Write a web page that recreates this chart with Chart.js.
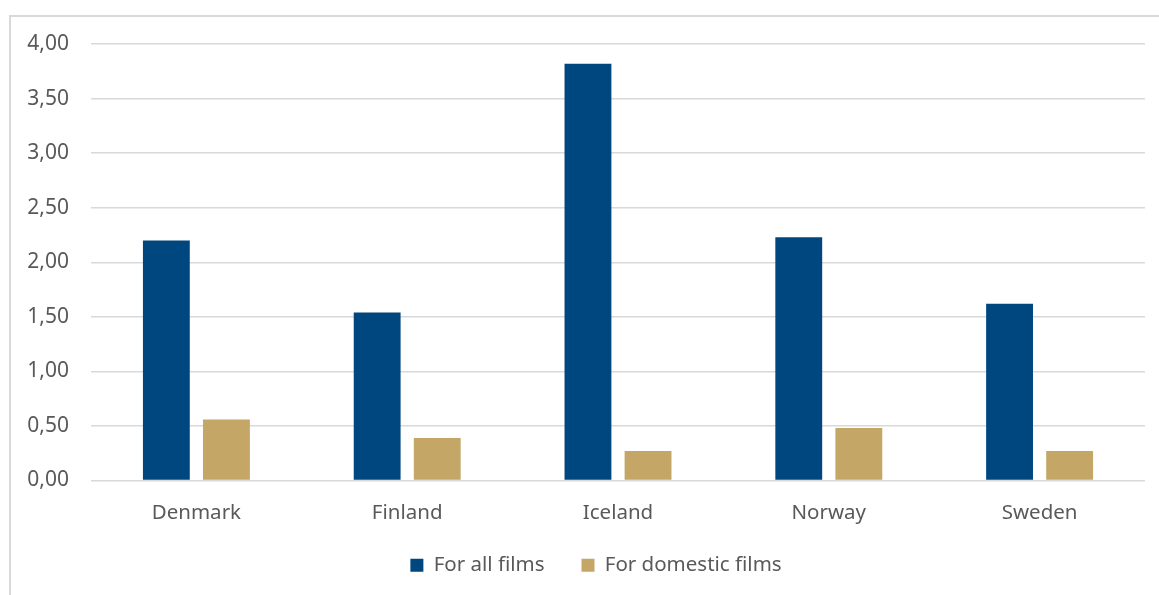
<!DOCTYPE html>
<html>
<head>
<meta charset="utf-8">
<script src="https://cdn.jsdelivr.net/npm/chart.js@4"></script>
<style>
  html, body { margin: 0; padding: 0; background: #fff; overflow: hidden; }
  #frame {
    position: absolute; left: 9px; top: 15px; width: 1150px; height: 600px;
    border-left: 2px solid #d9d9d9; border-top: 2px solid #d9d9d9;
  }
  #wrap { position: relative; width: 1148px; height: 576px; }
</style>
</head>
<body>
<div id="frame"><div id="wrap"><canvas id="chart"></canvas></div></div>
<script>
// admissions per inhabitant
const countries = ['Denmark', 'Finland', 'Iceland', 'Norway', 'Sweden'];
const allFilms = [2.20, 1.54, 3.82, 2.23, 1.62];
const domesticFilms = [0.56, 0.39, 0.27, 0.48, 0.27];
const yTicks = [0, 0.5, 1, 1.5, 2, 2.5, 3, 3.5, 4];

Chart.defaults.font.family = "'Noto Sans'";
Chart.defaults.font.size = 20.5;
Chart.defaults.color = '#595959';

// pull the legend a bit closer to the axis labels and nudge it right
const legendShift = {
  id: 'legendShift',
  afterLayout: function(chart) {
    const lg = chart.legend;
    lg.top -= 7.5;
    lg.bottom -= 7.5;
    lg.left += 18;
    lg.right += 18;
  }
};

new Chart(document.getElementById('chart'), {
  type: 'bar',
  data: {
    labels: countries,
    datasets: [
      { label: 'For all films', data: allFilms, backgroundColor: '#00467f' },
      { label: 'For domestic films', data: domesticFilms, backgroundColor: '#c4a666' }
    ]
  },
  options: {
    responsive: true,
    maintainAspectRatio: false,
    animation: false,
    categoryPercentage: 0.57,
    barPercentage: 0.78,
    layout: { padding: { top: 27, right: 14, bottom: 0, left: 0 } },
    scales: {
      x: {
        grid: { display: false, drawTicks: false },
        border: { display: false },
        ticks: { padding: 20 },
        afterFit: function(scale) { scale.height = 45; }
      },
      y: {
        min: 0,
        max: 4,
        afterBuildTicks: function(scale) {
          scale.ticks = yTicks.map(function(v) { return { value: v }; });
        },
        grid: { color: '#d9d9d9', lineWidth: 1.5, drawTicks: false },
        border: { display: false },
        ticks: {
          padding: 22,
          font: { size: 21 },
          callback: function(value) {
            return value.toFixed(2).replace('.', ',');
          }
        },
        afterFit: function(scale) {
          scale.width = 80;
          scale.paddingTop = 0;
          scale.paddingBottom = 0;
        }
      }
    },
    plugins: {
      legend: {
        position: 'bottom',
        labels: { boxWidth: 13, boxHeight: 13, padding: 37 }
      },
      tooltip: { enabled: false }
    }
  },
  plugins: [legendShift]
});
</script>
</body>
</html>
